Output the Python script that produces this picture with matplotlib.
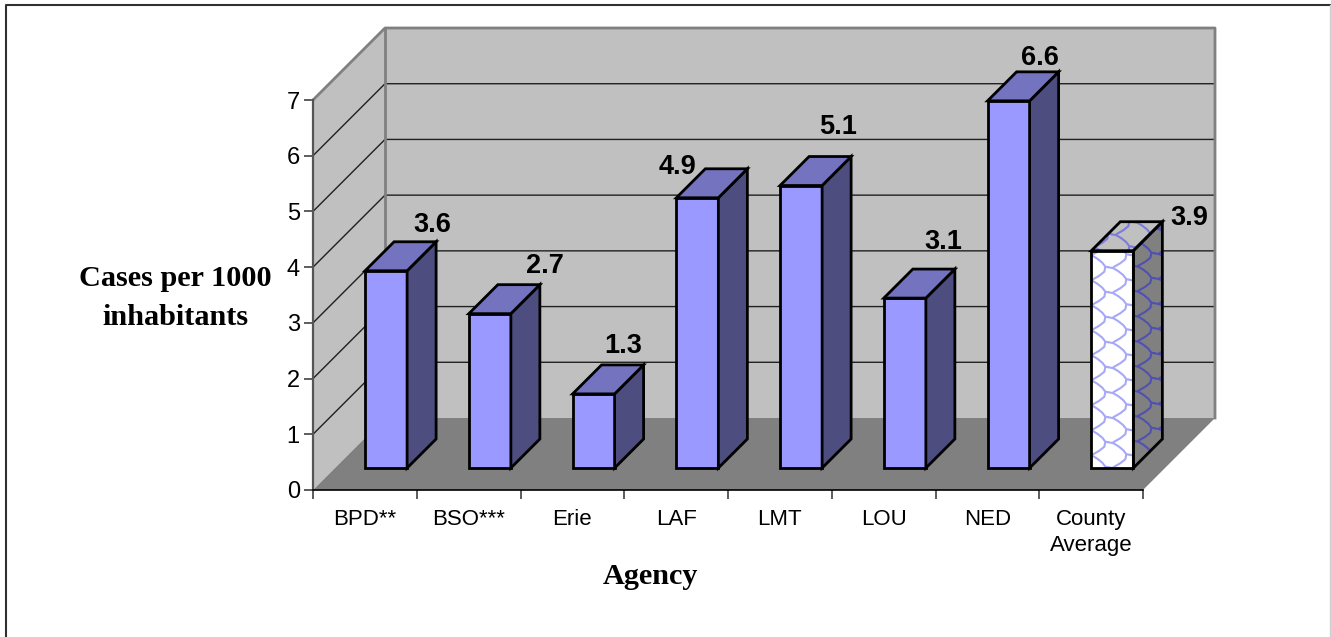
import numpy as np
import matplotlib
matplotlib.use('Agg')
import matplotlib.pyplot as plt
from matplotlib.patches import Polygon

agencies = ['BPD**', 'BSO***', 'Erie', 'LAF', 'LMT', 'LOU', 'NED', 'County\nAverage']
cases = [3.6, 2.7, 1.3, 4.9, 5.1, 3.1, 6.6, 3.9]
bar_heights = [3.54, 2.77, 1.33, 4.85, 5.07, 3.05, 6.59, 3.9]
yticks = [0, 1, 2, 3, 4, 5, 6, 7]
# where each value label sits relative to its bar, pixels
label_offsets = [(46, 46), (55, 48), (30, 48), (-20, 31), (37, 59), (38, 56), (31, 43), (77, 33)]

W, H = 1331, 637
L, R, B, T = 313, 1143, 490, 100
ux = (R - L) / 8.0
uy = (B - T) / 7.0
depth_px = 72.0
dx = depth_px / ux
dy = depth_px / uy

wall = '#C0C0C0'
floor = '#808080'
front = '#9999FF'
side = '#4D4D80'
top = '#7373BF'


def proj(x, y, d):
    # oblique projection: d=0 front of box, d=1 back wall
    return x + d * dx, y + d * dy


def poly(ax, pts, fc, ec='none', lw=0.0, z=1):
    p = Polygon([proj(*q) for q in pts], closed=True, fc=fc, ec=ec, lw=lw, zorder=z,
                clip_on=False, joinstyle='miter')
    ax.add_patch(p)
    return p


def scale_pattern(ax, clip, origin, eu, ev, nu, nv, color, z):
    # the brick-like fill of the average bar, eu/ev are data units per pattern pixel
    motif = np.array([(0, 0), (5, 1), (10, 4), (15, 8), (18, 12), (17, 17), (12, 21), (5, 25)], float)
    link = np.array([(18, 12), (21, 12.5)], float)
    for i in range(-2, nu):
        for j in range(-4, nv):
            ox = i * 21.0
            oy = j * 25.0 + (i % 2) * 12.5
            for m in (motif, link):
                u = m[:, 0] + ox
                v = m[:, 1] + oy
                xs = origin[0] + u * eu[0] + v * ev[0]
                ys = origin[1] + u * eu[1] + v * ev[1]
                ln, = ax.plot(xs, ys, color=color, lw=1.5, zorder=z, solid_capstyle='round')
                ln.set_clip_path(clip)
                ln.set_clip_box(None)  # the axes box would cut the side face off


fig = plt.figure(figsize=(W / 100, H / 100), dpi=100)
ax = fig.add_axes([L / W, 1 - B / H, (R - L) / W, (B - T) / H])
ax.set_xlim(0, 8)
ax.set_ylim(0, 7)
ax.patch.set_visible(False)

# border of the chart area
fig.add_artist(plt.Line2D([5.5 / W, 5.5 / W, 1330 / W], [0, 1 - 5 / H, 1 - 5 / H], color='#303030', lw=1.5))
fig.add_artist(plt.Line2D([1330 / W, 1330 / W], [0, 1 - 5 / H], color='#D0D0D0', lw=1.0))

# walls and floor
poly(ax, [(0, 0, 1), (8, 0, 1), (8, 7, 1), (0, 7, 1)], wall, z=1)
poly(ax, [(0, 0, 0), (0, 0, 1), (0, 7, 1), (0, 7, 0)], wall, z=1)
poly(ax, [(0, 0, 0), (8, 0, 0), (8, 0, 1), (0, 0, 1)], floor, z=2)

for v in yticks[1:-1]:
    xs, ys = zip(proj(0, v, 0), proj(0, v, 1), proj(8, v, 1))
    ax.plot(xs, ys, color='#202020', lw=1.0, zorder=3, clip_on=False)
xs, ys = zip(proj(0, 7, 0), proj(0, 7, 1), proj(8, 7, 1), proj(8, 0, 1))
ax.plot(xs, ys, color='#808080', lw=2.0, zorder=3, clip_on=False)
xs, ys = zip(proj(0, 0, 1), proj(0, 7, 1))
ax.plot(xs, ys, color='#808080', lw=2.0, zorder=3, clip_on=False)

# bars
d0, d1 = 22 / depth_px, 51 / depth_px
bw = 0.405
px, py = 1 / ux, 1 / uy
for i, h in enumerate(bar_heights):
    x0 = i + 0.29
    x1 = x0 + bw
    hatched = i == len(bar_heights) - 1
    z = 10 + i
    face = [(x0, 0, d0), (x1, 0, d0), (x1, h, d0), (x0, h, d0)]
    right = [(x1, 0, d0), (x1, 0, d1), (x1, h, d1), (x1, h, d0)]
    lid = [(x0, h, d0), (x1, h, d0), (x1, h, d1), (x0, h, d1)]
    if not hatched:
        for pts, c in ((face, front), (right, side), (lid, top)):
            poly(ax, pts, c, ec='black', lw=2.0, z=z)
        continue
    fp = poly(ax, face, 'white', z=z)
    rp = poly(ax, right, floor, z=z)
    tp = poly(ax, lid, wall, z=z)
    ox, oy = proj(x0, h, d0)
    scale_pattern(ax, fp, (ox - 4 * px, oy - 4 * py), (px, 0), (0, -py), 4, 11, '#A8A8F8', z + 0.1)
    ox, oy = proj(x1, h, d0)
    scale_pattern(ax, rp, (ox, oy + 10 * py), (px, 0), (0, -py), 3, 12, '#5050B0', z + 0.1)
    ox, oy = proj(x0, h, d1)
    scale_pattern(ax, tp, (ox - 30 * px, oy), (px, 0), (0, -py), 5, 2, '#7C7CDA', z + 0.1)
    for pts in (face, right, lid):
        poly(ax, pts, 'none', ec='black', lw=2.0, z=z + 0.2)

# value labels
for i, (c, h) in enumerate(zip(cases, bar_heights)):
    xa, ya = proj(i + 0.29 + bw / 2, h, d0)
    ax.annotate(f'{c:.1f}', (xa, ya), xytext=label_offsets[i], textcoords='offset pixels',
                ha='center', va='center', fontsize=19.5, fontweight='bold',
                family='Liberation Sans', zorder=30, annotation_clip=False)

# axes
for s in ('top', 'right'):
    ax.spines[s].set_visible(False)
ax.spines['left'].set_color('#555555')
ax.spines['left'].set_linewidth(1.6)
ax.spines['left'].set_zorder(4)
ax.spines['bottom'].set_color('black')
ax.spines['bottom'].set_linewidth(1.2)
ax.spines['bottom'].set_zorder(4)
ax.set_yticks(yticks)
ax.set_xticks(np.arange(0, 9))
ax.set_xticklabels([])
ax.tick_params(axis='both', which='major', length=6.5, width=1.1, color='#303030')
ax.tick_params(axis='y', labelsize=17, pad=3)
for lab in ax.get_yticklabels():
    lab.set_family('Liberation Sans')
ax.set_xticks(np.arange(8) + 0.5, agencies, minor=True)
ax.tick_params(axis='x', which='minor', length=0, labelsize=16, pad=14)
for lab in ax.get_xticklabels(minor=True):
    lab.set_family('Liberation Sans')
    lab.set_linespacing(1.28)

fig.text(175.5 / W, 1 - 298 / H, 'Cases per 1000\ninhabitants', ha='center', va='center', fontsize=21.8,
         fontweight='bold', family='Liberation Serif', linespacing=1.53)
fig.text(650 / W, 1 - 577 / H, 'Agency', ha='center', va='center', fontsize=21.8,
         fontweight='bold', family='Liberation Serif')

fig.savefig('out.png', dpi=100)
